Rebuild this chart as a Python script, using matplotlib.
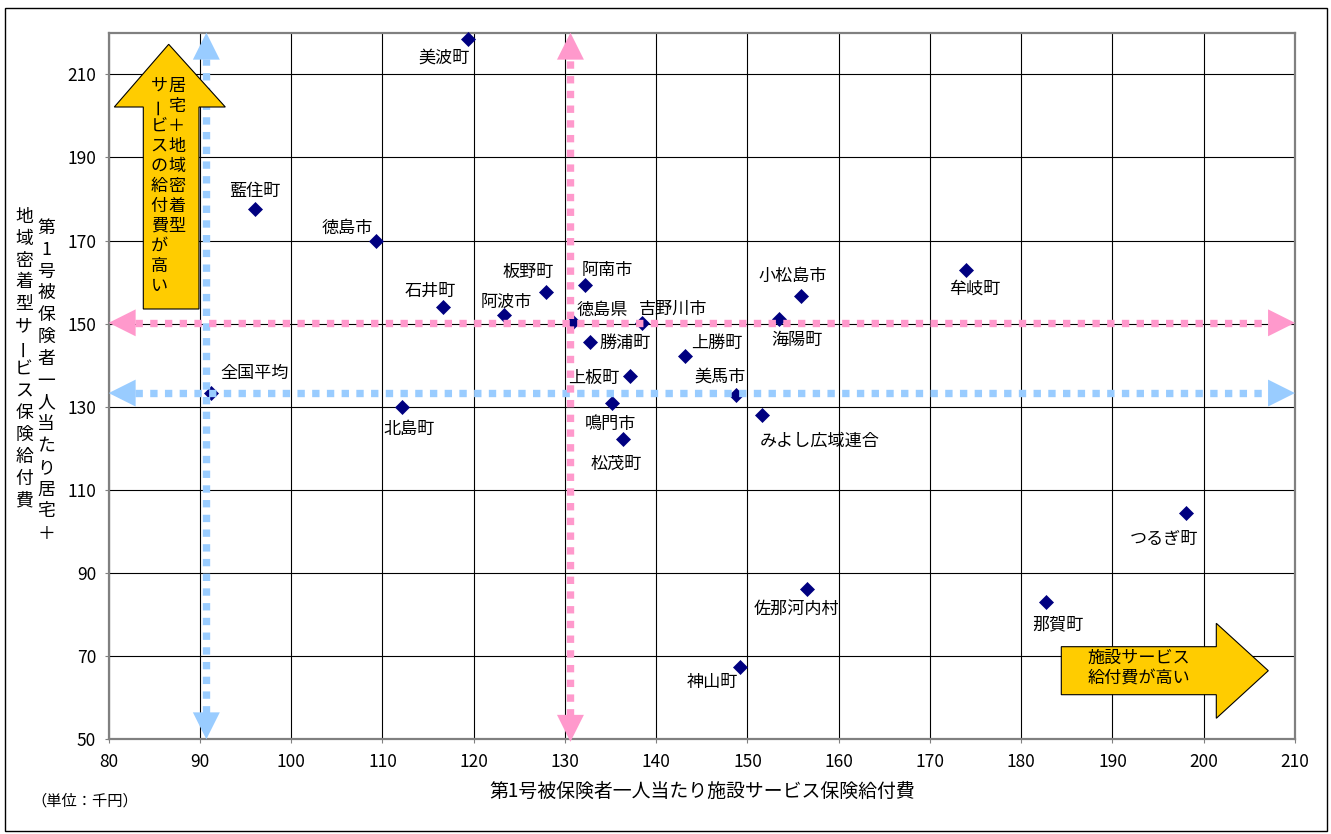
import matplotlib
matplotlib.use('Agg')
import matplotlib.pyplot as plt
import numpy as np
from matplotlib.patches import Polygon, Rectangle

plt.rcParams['font.family'] = ['Noto Sans CJK JP', 'DejaVu Sans']

# 市町村ごとの保険給付費（千円）
names = ['美波町', '藍住町', '徳島市', '石井町', '全国平均', '北島町', '阿波市', '板野町',
         '阿南市', '徳島県', '吉野川市', '勝浦町', '上勝町', '上板町', '美馬市', '海陽町',
         '小松島市', '牟岐町', 'みよし広域連合', '鳴門市', '松茂町', '佐那河内村', '神山町',
         'つるぎ町', '那賀町']
facility = [119.4, 96.0, 109.3, 116.6, 91.2, 112.1, 123.3, 127.9,
            132.2, 130.9, 138.4, 132.7, 143.2, 137.1, 148.7, 153.5,
            155.9, 174.0, 151.6, 135.2, 136.4, 156.5, 149.2,
            198.1, 182.7]
home = [218.6, 177.5, 169.9, 153.9, 133.4, 130.0, 152.2, 157.6,
        159.2, 150.4, 150.2, 145.5, 142.3, 137.4, 132.8, 151.2,
        156.6, 163.0, 128.0, 130.8, 122.2, 86.1, 67.5,
        104.5, 83.1]

# 基準線（全国平均・徳島県）
national_x, national_y = 90.7, 133.3
pref_x, pref_y = 130.6, 150.2

x_ticks = list(range(80, 211, 10))
y_ticks = list(range(50, 211, 20))

# ラベルの位置（マーカーからのずれ、ピクセル）
label_offsets = [(-24, -19), (0, 18), (-29, 13), (-12, 17), (44, 20), (7, -22), (2, 13), (-18, 20),
                 (22, 15), (29, 12), (32, 14), (36, -1), (31, 13), (-36, -2), (-16, 19), (18, -21),
                 (-9, 20), (8, -19), (58, -26), (-2, -21), (-7, -25), (-10, -21), (-28, -15),
                 (-22, -26), (12, -23)]

W, H = 1331, 834
fig = plt.figure(figsize=(W / 100, H / 100), dpi=100)


def px(x, y):
    return (x / W, 1 - y / H)


ax = fig.add_axes([108.7 / W, 1 - 739.3 / H, (1295 - 108.7) / W, (739.3 - 32.7) / H])
ax.set_xlim(80, 210)
ax.set_ylim(50, 220)
ax.set_xticks(x_ticks)
ax.set_yticks(y_ticks)
ax.grid(True, color='black', lw=0.8)
ax.set_axisbelow(True)
for s in ax.spines.values():
    s.set_color('#808080')
    s.set_linewidth(1.6)
ax.tick_params(direction='out', length=3, color='#808080', labelsize=12.5)
ax.tick_params(axis='y', pad=6)
ax.tick_params(axis='x', pad=7)

# 黄色の矢印
up_arrow = [(143.3, 309), (143.3, 107), (114.3, 107), (168.7, 44.3), (225.3, 107), (199, 107), (199, 309)]
right_arrow = [(1061.3, 646.7), (1216.3, 646.7), (1216.3, 623.3), (1268.3, 670.7),
               (1216.3, 718.3), (1216.3, 694.7), (1061.3, 694.7)]
for pts in (up_arrow, right_arrow):
    fig.patches.append(Polygon([px(*p) for p in pts], closed=True, transform=fig.transFigure,
                               fc='#FFCC00', ec='black', lw=0.8, zorder=2))

ax.plot(facility, home, 'D', color='#000080', ms=6.8, mew=0.5, zorder=3, clip_on=False)

HEAD = 27


def dotted_arrow(x0, y0, x1, y1, color):
    p0 = ax.transData.transform((x0, y0))
    p1 = ax.transData.transform((x1, y1))
    d = (p1 - p0) / np.hypot(*(p1 - p0))
    inv = ax.transData.inverted()
    a = inv.transform(p0 + d * (HEAD - 1))
    b = inv.transform(p1 - d * (HEAD - 1))
    ax.plot([a[0], b[0]], [a[1], b[1]], color=color, lw=5.3, dashes=(1, 1),
            dash_capstyle='butt', clip_on=False, zorder=5)
    for tip, base in (((x0, y0), inv.transform(p0 + d * HEAD)), ((x1, y1), inv.transform(p1 - d * HEAD))):
        ax.annotate('', xy=tip, xytext=tuple(base), annotation_clip=False, zorder=6,
                    arrowprops=dict(arrowstyle='-|>,head_length=1.94,head_width=0.97',
                                    mutation_scale=10, fc=color, ec='none', lw=0,
                                    shrinkA=0, shrinkB=0))


blue = '#99CCFF'
pink = '#FF99CC'
dotted_arrow(80, national_y, 210, national_y, blue)
dotted_arrow(national_x, 50, national_x, 220, blue)
dotted_arrow(80, pref_y, 210, pref_y, pink)
dotted_arrow(pref_x, 49.4, pref_x, 220, pink)

for n, x, y, (dx, dy) in zip(names, facility, home, label_offsets):
    ax.annotate(n, (x, y), xytext=(dx, dy), textcoords='offset pixels', ha='center', va='center',
                fontsize=12.3, zorder=7, annotation_clip=False)


def vtext(x, y, text, pitch, size):
    for i, ch in enumerate(text):
        rot = 90 if ch == 'ー' else 0
        fig.text(*px(x, y + i * pitch), ch, ha='center', va='center', fontsize=size, rotation=rot, zorder=8)


# 縦書きの文字
vtext(176.7, 86, '居宅＋地域密着型', 20, 12.3)
vtext(159.3, 86, 'サービスの給付費が高い', 20, 12.3)
vtext(46, 228, '第1号被保険者一人当たり居宅＋', 21.8, 12.8)
vtext(24, 217, '地域密着型サービス保険給付費', 21.8, 12.8)

fig.text(*px(1139, 668), '施設サービス\n給付費が高い', ha='center', va='center', fontsize=12.3,
         linespacing=1.15, zorder=8)
fig.text(*px(702, 791.7), '第1号被保険者一人当たり施設サービス保険給付費', ha='center', va='center', fontsize=13.6)
fig.text(*px(31, 800.7), '（単位：千円）', ha='left', va='center', fontsize=11)

fig.patches.append(Rectangle(px(4.7, 831), 1322 / W, 823 / H, transform=fig.transFigure,
                             fill=False, ec='black', lw=1))

fig.savefig('out.png', dpi=100)
